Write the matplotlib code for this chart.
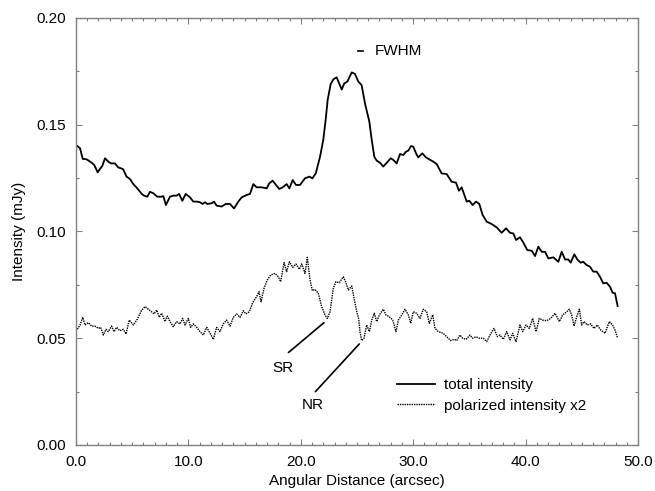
import matplotlib
matplotlib.use("Agg")
import matplotlib.pyplot as plt
from matplotlib.ticker import MultipleLocator, FormatStrFormatter

plt.rcParams['font.family'] = ['Liberation Sans', 'DejaVu Sans']

# total intensity
tot_x = [0.12,0.36,0.6,0.95,1.4,1.63,1.93,2.13,2.34,2.58,
         2.88,3.11,3.47,3.76,4.0,4.2,4.5,4.8,5.1,5.45,
         5.85,6.05,6.35,6.58,6.88,7.23,7.62,7.77,8.0,8.36,
         8.66,8.96,9.16,9.46,9.76,10.14,10.44,10.79,11.03,11.27,
         11.48,11.68,12.07,12.28,12.51,12.96,13.32,13.7,14.06,14.44,
         14.74,15.19,15.48,15.78,16.07,16.52,16.96,17.2,17.5,17.79,
         18.09,18.39,18.74,18.98,19.28,19.57,19.93,20.37,20.76,21.03,
         21.33,21.71,22.0,22.21,22.39,22.66,22.9,23.19,23.64,23.87,
         24.14,24.53,24.82,25.12,25.41,25.71,26.1,26.31,26.54,26.75,
         27.05,27.34,27.64,28.0,28.23,28.53,28.83,29.12,29.36,29.57,
         29.8,30.0,30.25,30.45,30.81,31.14,31.43,31.79,32.09,32.53,
         32.98,33.42,33.81,34.07,34.31,34.76,34.99,35.29,35.59,35.88,
         36.18,36.54,36.98,37.43,37.87,38.26,38.61,38.91,39.15,39.5,
         39.8,40.15,40.54,40.84,41.13,41.43,41.73,42.02,42.47,42.91,
         43.21,43.51,43.8,44.01,44.33,44.6,44.9,45.13,45.43,45.73,
         46.02,46.32,46.62,46.91,47.21,47.51,47.74,47.95,48.19]
tot_y = [0.140,0.139,0.134,0.1338,0.1322,0.1311,0.1277,0.1293,0.1307,0.1343,
         0.1327,0.1319,0.1319,0.130,0.1296,0.1291,0.1257,0.1246,0.1222,0.1202,
         0.1176,0.1168,0.1163,0.1186,0.1179,0.1163,0.1163,0.1166,0.1124,0.1163,
         0.1168,0.1168,0.1176,0.1144,0.1176,0.116,0.114,0.114,0.1137,0.1129,
         0.1137,0.1129,0.1132,0.114,0.1121,0.1117,0.1129,0.1129,0.1108,0.114,
         0.116,0.1171,0.1176,0.1222,0.1207,0.1207,0.1202,0.1226,0.1238,0.1218,
         0.1199,0.1207,0.1222,0.1202,0.1241,0.1218,0.1218,0.1249,0.1257,0.1249,
         0.1272,0.135,0.1429,0.1522,0.1616,0.1691,0.1713,0.1722,0.1665,0.1694,
         0.1702,0.1745,0.1738,0.1702,0.1686,0.160,0.1514,0.1429,0.135,0.1332,
         0.1322,0.1304,0.1322,0.1343,0.1335,0.1319,0.1363,0.1358,0.1374,0.1379,
         0.140,0.1398,0.1366,0.1347,0.1366,0.1347,0.1338,0.1327,0.1316,0.1272,
         0.1269,0.1233,0.1229,0.1191,0.1207,0.114,0.1144,0.1124,0.114,0.1129,
         0.1077,0.1046,0.1035,0.1019,0.0994,0.1015,0.0994,0.0991,0.096,0.0973,
         0.0948,0.0913,0.091,0.0885,0.0929,0.0905,0.0905,0.0874,0.0879,0.0858,
         0.0905,0.0869,0.0869,0.0854,0.0893,0.0869,0.0854,0.0858,0.0843,0.0835,
         0.0812,0.0812,0.0788,0.0757,0.076,0.0741,0.0713,0.0711,0.0651]

# polarized intensity x2
pol_x = [0.12,0.36,0.6,0.8,1.1,1.39,1.69,1.99,2.19,2.43,
         2.67,2.88,3.17,3.38,3.62,3.91,4.2,4.45,4.74,5.1,
         5.45,5.85,6.14,6.43,6.73,6.94,7.18,7.41,7.62,7.92,
         8.12,8.36,8.66,8.96,9.25,9.49,9.7,9.99,10.2,10.44,
         10.74,11.03,11.33,11.63,11.92,12.22,12.51,12.81,13.1,13.4,
         13.7,14.0,14.29,14.59,14.89,15.12,15.42,15.72,16.07,16.28,
         16.46,16.73,17.02,17.32,17.7,18.0,18.21,18.51,18.74,18.98,
         19.28,19.57,19.87,20.08,20.37,20.58,20.82,21.03,21.26,21.56,
         21.86,22.15,22.36,22.6,22.89,23.13,23.43,23.78,24.02,24.23,
         24.53,24.8,25.0,25.15,25.27,25.41,25.62,25.86,26.1,26.31,
         26.54,26.75,26.99,27.34,27.58,27.87,28.18,28.47,28.68,28.98,
         29.27,29.57,29.78,30.01,30.31,30.6,30.9,31.2,31.43,31.74,
         31.94,32.24,32.68,32.98,33.34,33.63,33.87,34.16,34.4,34.7,
         35.05,35.29,35.59,35.88,36.24,36.54,36.83,37.19,37.49,37.72,
         38.02,38.32,38.61,38.85,39.15,39.5,39.74,40.04,40.33,40.63,
         40.93,41.22,41.52,41.88,42.23,42.62,43.0,43.3,43.66,43.89,
         44.1,44.31,44.55,44.78,44.99,45.2,45.49,45.79,46.09,46.38,
         46.68,47.06,47.45,47.74,47.95,48.19]
pol_y = [0.0542,0.0562,0.0598,0.0562,0.0573,0.0557,0.0557,0.0546,0.0551,0.0515,
         0.0542,0.0531,0.0557,0.0531,0.0551,0.0535,0.0542,0.052,0.0585,0.0562,
         0.0589,0.0632,0.0648,0.0636,0.0624,0.0614,0.0632,0.0598,0.0617,0.0578,
         0.0604,0.0578,0.0554,0.0578,0.0567,0.0593,0.0562,0.0593,0.0551,0.0567,
         0.0551,0.0531,0.0515,0.0551,0.0523,0.0495,0.0551,0.0531,0.0567,0.0585,
         0.0557,0.0598,0.0614,0.0598,0.0629,0.0614,0.0624,0.0667,0.0695,0.0718,
         0.0671,0.0734,0.0773,0.0796,0.0804,0.0788,0.0765,0.0854,0.0812,0.0858,
         0.0832,0.0848,0.0823,0.0848,0.0804,0.0879,0.0773,0.0723,0.0729,0.071,
         0.0648,0.0609,0.0593,0.0624,0.0734,0.0765,0.076,0.0788,0.076,0.0726,
         0.0745,0.067,0.062,0.059,0.053,0.0489,0.05,0.0562,0.0531,0.0585,
         0.0617,0.0578,0.0609,0.0636,0.0609,0.0601,0.0585,0.0531,0.0585,0.0609,
         0.0636,0.0609,0.057,0.0624,0.0617,0.0593,0.0636,0.0624,0.057,0.0609,
         0.0546,0.0531,0.0523,0.0507,0.0489,0.0495,0.0489,0.0515,0.05,0.0495,
         0.0515,0.05,0.0507,0.05,0.05,0.0484,0.0515,0.0546,0.0507,0.0515,
         0.0495,0.0531,0.0492,0.0523,0.0484,0.0562,0.0531,0.0562,0.0546,0.0593,
         0.0531,0.0593,0.0585,0.0582,0.0593,0.0617,0.0578,0.0609,0.0624,0.0636,
         0.0609,0.0557,0.0601,0.0636,0.0562,0.0578,0.0562,0.0567,0.0546,0.0562,
         0.0539,0.0523,0.0578,0.0562,0.0539,0.05]

fwhm_x = [25.1, 25.5]
fwhm_y = [0.1845, 0.1845]

series_labels = ["total intensity", "polarized intensity x2"]

fig = plt.figure(figsize=(6.55, 4.91), dpi=100)
ax = fig.add_axes([76/655, 46/491, 562/655, 427/491])

ax.plot(tot_x, tot_y, color='black', lw=1.3, label=series_labels[0])
ax.plot(pol_x, pol_y, color='black', lw=1.0, linestyle=(0, (1, 0.7)), label=series_labels[1])
ax.plot(fwhm_x, fwhm_y, color='black', lw=1.2)
ax.text(26.6, 0.1845, "FWHM", fontsize=11, va='center', ha='left')

# SR / NR annotations
ax.annotate('', xy=(22.06, 0.0573), xytext=(18.9, 0.0433),
            arrowprops=dict(arrowstyle='-', color='black', lw=1.2, shrinkA=0, shrinkB=0))
ax.text(18.4, 0.036, "SR", fontsize=11, ha='center', va='center')
ax.annotate('', xy=(25.2, 0.0473), xytext=(21.3, 0.0250),
            arrowprops=dict(arrowstyle='-', color='black', lw=1.2, shrinkA=0, shrinkB=0))
ax.text(21.1, 0.0187, "NR", fontsize=11, ha='center', va='center')

ax.set_xlim(0, 50)
ax.set_ylim(0, 0.20)
ax.xaxis.set_major_locator(MultipleLocator(10))
ax.xaxis.set_minor_locator(MultipleLocator(1))
ax.yaxis.set_major_locator(MultipleLocator(0.05))
ax.yaxis.set_minor_locator(MultipleLocator(0.025))
ax.xaxis.set_major_formatter(FormatStrFormatter('%.1f'))
ax.yaxis.set_major_formatter(FormatStrFormatter('%.2f'))

gray = '#808080'
for s in ax.spines.values():
    s.set_color(gray)
    s.set_linewidth(1.0)
ax.tick_params(which='both', direction='in', top=True, right=True, color=gray, labelsize=11)
ax.tick_params(which='major', length=4.5, width=0.8, pad=7)
ax.tick_params(which='minor', length=2.5, width=0.8)

ax.set_xlabel("Angular Distance (arcsec)", fontsize=11, labelpad=4)
ax.set_ylabel("Intensity (mJy)", fontsize=11, labelpad=8)

leg = ax.legend(loc='upper left', bbox_to_anchor=(0.571, 0.156), frameon=False,
                fontsize=11, handlelength=2.5, handletextpad=0.6, labelspacing=0.42,
                borderpad=0, borderaxespad=0)

fig.savefig("out.png", dpi=100)
